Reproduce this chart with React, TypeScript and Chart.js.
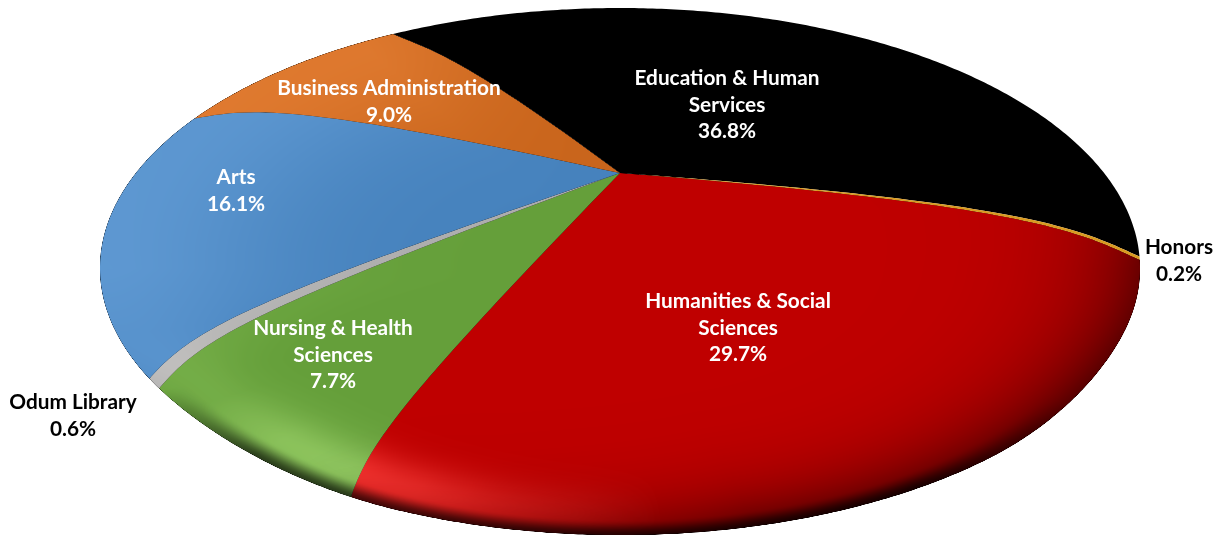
import React, { useEffect, useRef } from "react";
import { Chart, registerables } from "chart.js";

Chart.register(...registerables);

// ---- data ----
const categories = [
  "Education & Human Services",
  "Honors",
  "Humanities & Social Sciences",
  "Nursing & Health Sciences",
  "Odum Library",
  "Arts",
  "Business Administration",
];
const shares = [36.8, 0.2, 29.7, 7.7, 0.6, 16.1, 9.0];
const sliceColors = ["#000000", "#d99a20", "#bf0000", "#659f3a", "#adadad", "#4682bd", "#c9651c"];
const labelLines = [
  ["Education & Human", "Services"],
  ["Honors"],
  ["Humanities & Social", "Sciences"],
  ["Nursing & Health", "Sciences"],
  ["Odum Library"],
  ["Arts"],
  ["Business Administration"],
];
const labelColors = ["#fff", "#000", "#fff", "#fff", "#000", "#fff", "#fff"];

// ---- styling of the perspective view ----
const labelAnchors = [
  [727, 78.5],
  [1179, 247.5],
  [738, 301.5],
  [333, 328.5],
  [73, 402.5],
  [236, 177.5],
  [389, 88.5],
];
const lightStrength = [0, 0, 1, 0.78, 1, 1, 1];
const APEX = { x: 620, y: 173 };
const RIM = { cx: 620, cy: 268, a: 520, b: 260 };
const RAD = Math.PI / 180;

const lerpTable = (t: number[][], x: number) => {
  if (x <= t[0][0]) return t[0][1];
  for (let i = 1; i < t.length; i++) {
    if (x <= t[i][0]) {
      const f = (x - t[i - 1][0]) / (t[i][0] - t[i - 1][0]);
      return t[i - 1][1] + f * (t[i][1] - t[i - 1][1]);
    }
  }
  return t[t.length - 1][1];
};
const smooth = (a: number, b: number, x: number) => {
  const t = Math.min(1, Math.max(0, (x - a) / (b - a)));
  return t * t * (3 - 2 * t);
};

// extra bulge of the lower edge, degrees clockwise from east
const bulge = (psi: number) => {
  const p = ((psi % 360) + 360) % 360;
  return p < 180 ? 7 * smooth(15, 45, p) * (1 - smooth(115, 150, p)) : 0;
};
// theta: degrees clockwise from the pie's start
const rimAngle = (theta: number) =>
  theta - 123.5 - 11.4 * Math.cos((theta - 132) * RAD) + 1.3 * Math.exp(-(((theta - 235) / 22) ** 2));
const rimPoint = (psi: number) => ({
  x: RIM.cx + RIM.a * Math.cos(psi * RAD),
  y: RIM.cy + RIM.b * Math.sin(psi * RAD) + bulge(psi),
});
const innerAngle = (theta: number) => {
  const t = theta - 124;
  return Math.atan2(0.5 * Math.sin(t * RAD), Math.cos(t * RAD));
};
const spoke = (theta: number) => {
  const end = rimPoint(rimAngle(theta));
  const dx = end.x - APEX.x;
  const dy = end.y - APEX.y;
  const len = Math.hypot(dx, dy);
  const inner = innerAngle(theta);
  const tangent = Math.atan2(dy, dx) + (-3 + 22 * Math.cos((theta - 100) * RAD)) * RAD;
  return {
    c1: { x: APEX.x + Math.cos(inner) * len * 0.78, y: APEX.y + Math.sin(inner) * len * 0.78 },
    c2: { x: end.x - Math.cos(tangent) * len * 0.13, y: end.y - Math.sin(tangent) * len * 0.13 },
    end,
  };
};

const tracePath = (ctx: CanvasRenderingContext2D, t0: number, t1: number) => {
  const a = spoke(t0);
  const b = spoke(t1);
  ctx.beginPath();
  ctx.moveTo(APEX.x, APEX.y);
  ctx.bezierCurveTo(a.c1.x, a.c1.y, a.c2.x, a.c2.y, a.end.x, a.end.y);
  const p0 = rimAngle(t0);
  const p1 = rimAngle(t1);
  const steps = Math.max(2, Math.ceil(Math.abs(p1 - p0) * 2));
  for (let i = 1; i <= steps; i++) {
    const q = rimPoint(p0 + ((p1 - p0) * i) / steps);
    ctx.lineTo(q.x, q.y);
  }
  ctx.bezierCurveTo(b.c2.x, b.c2.y, b.c1.x, b.c1.y, APEX.x, APEX.y);
  ctx.closePath();
};

const lightTable = [[85, 0], [95, 0.3], [105, 0.55], [115, 0.85], [125, 1], [135, 0.9], [147, 0.35], [165, 0.35], [180, 0.45], [240, 0.4], [262, 0]];
const broadDark = [[-25, 0.4], [0, 0.75], [40, 1], [75, 1], [110, 0.25], [130, 0]];
const thinDark = [[30, 0], [55, 1], [135, 0.9], [152, 0]];

const makeShade = (w: number, h: number, kind: "light" | "dark") => {
  const c = document.createElement("canvas");
  c.width = w;
  c.height = h;
  const g = c.getContext("2d")!;
  const img = g.createImageData(w, h);
  for (let y = 0; y < h; y++) {
    for (let x = 0; x < w; x++) {
      const ux = (x - RIM.cx) / RIM.a;
      let psi = Math.atan2((y - RIM.cy) / RIM.b, ux) / RAD;
      const sh = bulge(psi);
      const r0 = Math.hypot(ux, (y - RIM.cy) / RIM.b);
      const uy = (y - RIM.cy - sh * r0 * r0) / RIM.b;
      const rho = Math.hypot(ux, uy);
      psi = Math.atan2(uy, ux) / RAD;
      const i = (y * w + x) * 4;
      const d = Math.max(0, 1 - rho);
      if (kind === "light") {
        const p = psi < 0 ? psi + 360 : psi;
        const blend = smooth(150, 175, p);
        const width = 0.095 + 0.255 * blend;
        const centre = 0.08 * (1 - blend);
        const k = lerpTable(lightTable, p) * Math.exp(-(((d - centre) / width) ** 2));
        img.data[i] = 52 * k;
        img.data[i + 1] = 48 * k;
        img.data[i + 2] = 45 * k;
        img.data[i + 3] = 255;
      } else {
        const p = psi < -90 ? psi + 360 : psi;
        const a1 = lerpTable(broadDark, p) * 0.6 * Math.pow(Math.min(rho, 1), 8);
        const a2 = lerpTable(thinDark, p) * 0.72 * smooth(0.94, 1, rho);
        img.data[i + 3] = 255 * (1 - (1 - a1) * (1 - a2));
      }
    }
  }
  g.putImageData(img, 0, 0);
  return c;
};

const perspectivePie = {
  id: "perspectivePie",
  beforeDatasetDraw(chart: any) {
    const ctx: CanvasRenderingContext2D = chart.ctx;
    const arcs = chart.getDatasetMeta(0).data;
    const angle = (arc: any) => {
      const p = arc.getProps(["startAngle", "endAngle"], true);
      return [p.startAngle / RAD + 90, p.endAngle / RAD + 90];
    };
    const blackIndex = sliceColors.indexOf("#000000");
    const honorsIndex = categories.indexOf("Honors");
    const { width, height } = chart;
    ctx.save();
    arcs.forEach((arc: any, i: number) => {
      if (i === blackIndex || i === honorsIndex) return;
      const [t0, t1] = angle(arc);
      tracePath(ctx, t0, t1);
      ctx.fillStyle = arc.options.backgroundColor;
      ctx.fill();
    });
    arcs.forEach((arc: any, i: number) => {
      if (!lightStrength[i]) return;
      const [t0, t1] = angle(arc);
      ctx.save();
      tracePath(ctx, t0, t1);
      ctx.clip();
      ctx.globalCompositeOperation = "lighter";
      ctx.globalAlpha = lightStrength[i];
      ctx.drawImage(lightLayer(width, height), 0, 0);
      ctx.restore();
    });
    ctx.globalCompositeOperation = "source-atop";
    ctx.drawImage(darkLayer(width, height), 0, 0);
    ctx.globalCompositeOperation = "source-over";
    [blackIndex, honorsIndex].forEach((i) => {
      const [t0, t1] = angle(arcs[i]);
      tracePath(ctx, t0, t1);
      ctx.fillStyle = arcs[i].options.backgroundColor;
      ctx.fill();
    });
    ctx.restore();
    return false;
  },
  afterDatasetsDraw(chart: any) {
    const ctx: CanvasRenderingContext2D = chart.ctx;
    ctx.save();
    ctx.font = "bold 20.8px Lato";
    ctx.textAlign = "center";
    ctx.textBaseline = "middle";
    shares.forEach((v, i) => {
      const [x, y] = labelAnchors[i];
      ctx.fillStyle = labelColors[i];
      const lines = [...labelLines[i], `${v.toFixed(1)}%`];
      lines.forEach((s, k) => ctx.fillText(s, x, y + k * 26.6));
    });
    ctx.restore();
  },
};

let lightCache: HTMLCanvasElement | null = null;
let darkCache: HTMLCanvasElement | null = null;
const lightLayer = (w: number, h: number) => (lightCache ??= makeShade(w, h, "light"));
const darkLayer = (w: number, h: number) => (darkCache ??= makeShade(w, h, "dark"));

export default function App() {
  const ref = useRef<HTMLCanvasElement>(null);
  useEffect(() => {
    const chart = new Chart(ref.current!, {
      type: "pie",
      data: {
        labels: categories,
        datasets: [{ data: shares, backgroundColor: sliceColors, borderWidth: 0 }],
      },
      options: {
        responsive: false,
        animation: false,
        plugins: { legend: { display: false }, tooltip: { enabled: false } },
      },
      plugins: [perspectivePie],
    } as any);
    return () => chart.destroy();
  }, []);
  return (
    <canvas
      ref={ref}
      width={1225}
      height={535}
      style={{ position: "fixed", left: 0, top: 0, display: "block" }}
    />
  );
}
